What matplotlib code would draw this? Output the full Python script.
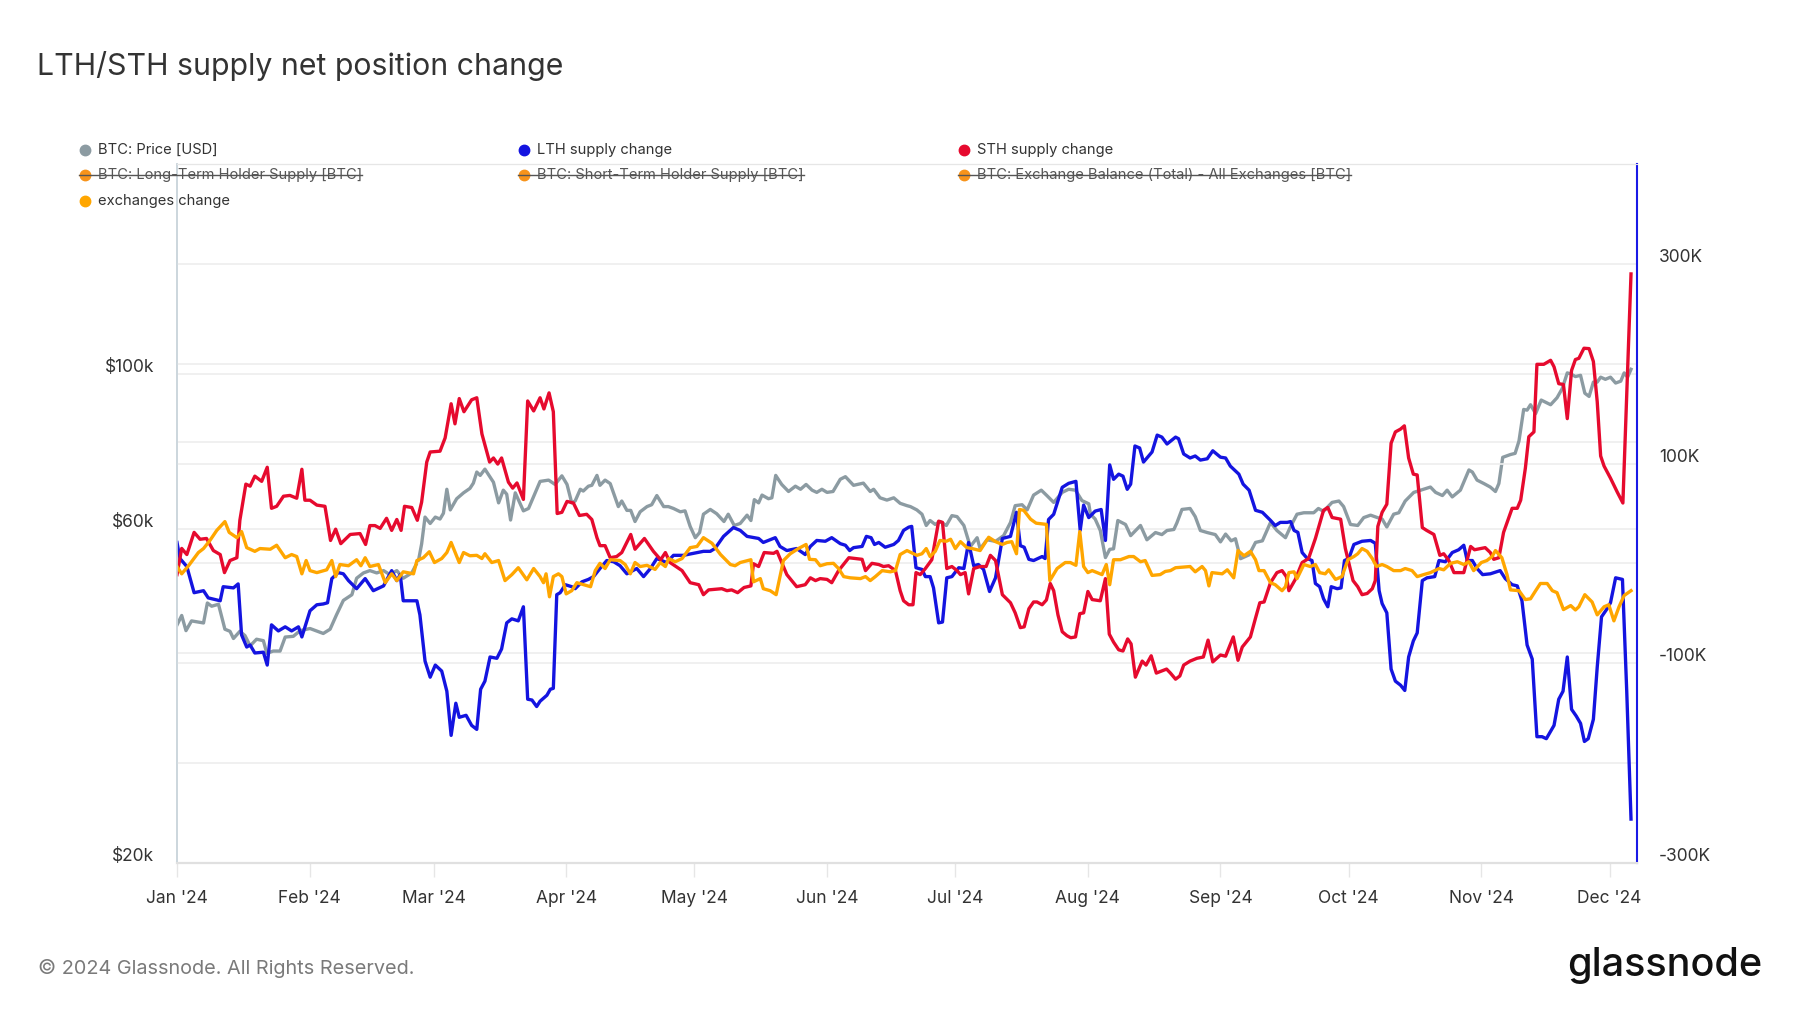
import pandas as pd
import numpy as np
import matplotlib
matplotlib.use("Agg")
import matplotlib.pyplot as plt
import matplotlib.dates as mdates
import matplotlib.transforms as mtransforms
from matplotlib.lines import Line2D
from matplotlib.ticker import FixedLocator, FuncFormatter, NullLocator

plt.rcParams['font.family'] = ['Inter', 'DejaVu Sans']

# ---- data (days counted from 2024-01-01) ----
price_days = [0, 1.1, 2.1, 3.4, 6.2, 7.1, 8.1, 9.7, 11.2, 12.4, 13.2, 14.7, 15.9, 17.1, 18.6, 20.2, 21.0, 22.5,
              24.1, 25.3, 27.2, 28.8, 31.1, 34.2, 35.8, 37.3, 38.9, 40.9, 42.0, 43.6, 45.1, 46.7, 48.3, 49.8,
              51.4, 52.9, 54.9, 56.5, 57.2, 58.0, 59.2, 60.4, 61.5, 62.3, 63.1, 63.9, 65.4, 67.0, 68.5, 69.3,
              70.1, 70.9, 72.0, 74.0, 75.2, 76.3, 77.1, 78.0, 79.1, 81.0, 82.2,
              84.9, 86.9, 88.4, 90.0, 91.2, 92.3, 93.1, 94.3, 95.0, 96.2, 97.0, 98.2, 98.9, 100.1, 101.3, 103.2,
              104.0, 105.2, 106.1, 107.1, 108.3, 109.9, 111.0, 112.2, 113.8, 114.9, 116.1, 117.7, 118.8, 120.0,
              121.2, 122.2, 123.1, 124.7, 126.2, 127.9, 128.9, 130.3, 131.7, 133.3, 134.2, 135.0, 136.0, 136.8,
              138.3, 139.1, 140.0, 141.4, 143.0, 144.6, 145.8, 147.1, 148.5, 149.6, 150.8, 152.0, 153.4, 155.1,
              156.3, 158.2, 160.5, 162.1, 162.9, 164.4, 166.0, 167.6, 169.1, 170.7,
              171.5, 173.0, 174.2, 175.2, 176.1, 177.3, 178.4, 179.9, 181.2, 182.4, 184.0, 185.5, 187.1, 187.8,
              189.4, 191.4, 193.3, 194.9, 196.0, 197.6, 198.8, 200.3, 202.1, 203.4, 205.0, 207.0, 208.5, 210.1,
              211.6, 213.2, 213.6, 214.7, 215.9, 217.1, 218.1, 219.0, 220.0, 221.8, 223.0, 225.3, 226.8, 228.8,
              230.3, 231.5, 233.1, 233.8, 235.0, 236.9, 238.1, 239.3, 240.9, 242.8, 244.0, 245.2, 246.5, 247.5,
              248.7, 250.7, 252.2, 253.8,
              255.7, 257.2, 259.2, 260.4, 261.9, 263.5, 265.8, 266.9, 268.1, 270.1, 271.7, 272.8, 274.4, 276.1,
              277.5, 279.1, 280.7, 281.8, 282.9, 284.5, 285.7, 287.2, 289.2, 290.8, 293.1, 294.3, 295.9, 297.0,
              298.2, 300.1, 302.1, 302.9, 304.0, 305.6, 307.1, 308.3, 309.1, 310.0, 311.8, 312.9, 313.8, 314.9,
              315.7, 316.5, 317.7, 319.0, 321.2, 322.7, 323.9, 325.1, 325.9, 327.0, 328.2, 329.2, 330.2, 331.2,
              332.1, 332.9, 334.0, 335.2, 336.4, 337.6, 338.4, 339.2, 340.0]
price_k = [43.8, 45.2, 43.0, 44.4, 44.1, 47.1, 46.6, 46.9, 43.2, 42.9, 41.9, 42.9, 42.3, 40.9, 41.8, 41.6, 39.9, 40.2,
           40.2, 42.1, 42.2, 43.0, 43.3, 42.6, 43.2, 45.3, 47.5, 48.4, 51.1, 52.0, 52.4, 52.0, 52.4, 51.7,
           52.4, 51.1, 52.0, 54.3, 57.2, 62.5, 61.2, 62.5, 62.1, 63.3, 68.5, 64.0, 66.4, 67.7, 68.7, 69.9,
           72.5, 71.7, 73.2, 70.1, 65.5, 68.3, 67.4, 61.9, 67.7, 63.8, 64.3,
           70.3, 70.6, 69.6, 71.6, 69.6, 65.5, 65.9, 68.5, 68.1, 69.2, 69.4, 71.7, 69.4, 70.6, 69.8, 64.7,
           65.9, 63.9, 63.9, 61.6, 63.6, 64.7, 65.1, 67.1, 64.7, 64.7, 64.3, 63.6, 63.8, 60.6,
           58.4, 59.4, 63.1, 64.1, 63.2, 61.6, 63.1, 60.8, 61.2, 62.9, 61.8, 66.2, 65.5, 67.2,
           66.4, 66.6, 71.7, 69.6, 68.0, 69.2, 68.5, 69.6, 68.3, 67.8, 68.5, 67.8, 68.0, 70.8,
           71.4, 69.4, 69.9, 68.0, 68.5, 66.6, 66.1, 66.6, 65.4, 64.9,
           64.7, 64.0, 63.1, 60.8, 61.8, 61.0, 61.6, 60.8, 62.8, 62.6, 60.8, 56.7, 58.4, 56.3,
           58.0, 57.7, 58.8, 61.4, 64.9, 65.1, 64.0, 67.2, 68.3, 67.1, 65.6, 67.8, 68.5, 68.3,
           66.0, 65.3, 63.1, 62.1, 59.8, 54.7, 56.2, 56.3, 61.8, 61.0, 58.8, 60.8, 58.0, 59.4,
           59.0, 59.8, 60.0, 61.3, 64.1, 64.3, 62.6, 59.8, 59.4, 59.0, 57.6, 59.1, 57.8, 58.2,
           54.5, 55.2, 57.5, 57.8,
           61.4, 59.8, 58.4, 60.6, 63.1, 63.4, 63.4, 64.3, 63.7, 65.6, 65.9, 64.7, 61.0, 60.8,
           62.4, 62.9, 62.4, 62.1, 60.5, 63.1, 63.4, 65.9, 67.8, 68.3, 69.0, 67.8, 67.1, 68.3,
           66.8, 68.3, 73.0, 72.5, 70.6, 69.8, 69.0, 68.0, 69.8, 76.1, 76.8, 77.1, 80.3, 89.1,
           88.9, 90.5, 87.9, 91.9, 90.5, 92.6, 95.4, 100.5, 100.2, 99.3, 99.7, 94.0, 93.0, 97.5,
           97.5, 99.1, 98.4, 99.1, 97.2, 97.8, 100.5, 99.1, 101.7]

lth_days = [0, 0.7, 2.3, 4.0, 6.2, 7.3, 10.1, 10.8, 13.2, 14.3, 15.1, 16.3, 17.1, 18.2, 20.2, 21.1, 22.1, 23.7,
            25.3, 26.8, 28.4, 29.2, 31.1, 32.7, 34.2, 35.2, 36.2, 37.7, 38.9, 40.1, 42.0, 44.0, 45.9, 48.3,
            50.2, 51.4, 52.2, 52.9, 56.1, 56.8, 58.0, 59.2, 60.4, 61.9, 63.1, 64.1, 65.2, 66.0, 67.6, 68.9,
            70.1, 71.0, 72.0, 73.2, 74.8, 75.9, 77.1, 78.3, 79.8, 81.0, 82.0, 83.0, 84.1,
            84.9, 86.5, 87.3, 88.0, 88.8, 89.6, 90.8, 92.3, 93.1, 94.7, 96.2, 97.4, 98.9, 100.5, 102.1, 103.6,
            105.2, 107.5, 109.1, 110.7, 112.2, 114.5, 116.1, 118.4, 120.8, 123.1, 124.7, 125.8, 127.8, 130.1,
            131.7, 133.3, 136.0, 137.1, 139.9, 141.0, 142.6, 144.9, 146.9, 148.1, 149.6, 151.6, 153.1, 155.1,
            156.3, 157.3, 158.2, 160.2, 161.2, 162.3, 163.1, 164.1, 165.6, 167.6, 168.7, 169.9, 171.1, 171.8,
            172.8, 174.2, 175.0, 176.1, 176.9, 178.1, 179.0, 180.0, 181.2, 182.8, 184.0, 185.1, 186.3, 187.4,
            188.6, 190.0, 191.4, 193.0, 194.9, 196.3, 197.2, 198.1, 199.2, 200.3, 202.3, 203.0, 203.8, 205.0,
            207.0, 208.5, 210.2, 211.2, 212.0, 213.2, 214.7, 216.1, 217.1, 218.1, 219.0, 220.2, 221.2, 222.2,
            223.0, 224.0, 225.1, 226.0, 228.0, 229.2, 230.3, 231.5, 233.5, 234.2, 235.4, 236.9, 238.1, 239.3,
            240.9, 242.2, 244.0, 245.2, 246.3, 248.3, 249.3, 250.7, 252.2, 253.8,
            255.7, 256.8, 258.0, 259.6, 260.4, 261.2, 262.1, 263.1, 264.3, 265.4, 266.2, 267.2, 268.1, 269.1,
            269.9, 271.3, 272.2, 273.0, 274.0, 275.2, 277.1, 279.1, 280.2, 281.1, 281.8, 282.9, 283.9, 284.9,
            286.1, 287.1, 288.0, 289.1, 290.0, 291.2, 292.3, 294.1, 295.1, 296.6, 298.2, 299.7, 300.9, 301.7,
            302.9, 304.0, 305.3, 307.1, 309.4, 310.6, 312.2, 313.4, 314.5, 315.7, 316.9, 318.0, 319.2, 320.2,
            322.0, 323.1, 324.1, 325.1, 326.1, 327.2, 328.2, 329.1, 330.0, 331.2, 332.1, 333.1, 334.4, 335.2,
            336.4, 338.0, 339.0, 340.0]
lth_k = [21.0, 4.9, -3.1, -29.3, -27.3, -34.5, -37.4, -23.3, -24.5, -20.5, -71.6, -83.7, -81.7, -89.7, -88.9,
         -101.8, -61.5, -67.6, -63.5, -67.6, -63.5, -73.6, -47.4, -41.4, -40.6, -39.4, -15.2, -9.2, -10.4, -17.2,
         -25.3, -15.2, -27.3, -22.5, -7.2, -17.2, -11.2, -37.4, -37.4, -51.5, -97.8, -113.9, -101.8, -107.8,
         -128.0, -172.2, -140.0, -154.1, -152.1, -162.2, -166.2, -126.0, -117.9, -93.7, -95.0, -85.7, -59.5,
         -55.5, -57.5, -43.4, -136.0, -136.8, -143.3,
         -138.0, -132.0, -126.0, -125.1, -31.3, -29.3, -21.3, -23.3, -25.3, -18.4, -16.0, -13.2, -5.1, 2.9, 1.7,
         -2.3, -10.4, -5.1, -13.2, -5.1, 4.9, 0.9, 8.1, 8.1, 10.1, 12.1, 12.1, 15.0, 27.1, 35.9,
         33.1, 27.1, 25.0, 21.0, 25.8, 17.0, 12.9, 14.9, 8.9, 17.0, 23.0, 22.2, 25.8, 19.8,
         18.2, 12.9, 15.8, 17.0, 27.1, 25.8, 19.0, 21.0, 16.2, 19.0, 23.0, 33.1, 36.3, 37.1,
         -4.3, -6.0, -13.2, -13.2, -24.5, -59.5, -58.7, -14.4, -13.2, -4.3, -5.1, 21.0, -2.3, -1.1,
         -6.0, -28.1, -14.4, 25.0, 27.1, 51.2, 17.8, 16.2, 4.1, 2.9, 6.9, 4.9, 44.0, 49.2,
         76.2, 80.2, 82.2, 33.1, 58.4, 45.9, 52.4, 54.0, 23.0, 98.7, 84.2, 89.4, 87.4, 74.2,
         79.4, 117.6, 115.6, 101.5, 111.6, 128.5, 126.5, 119.6, 126.5, 124.9, 109.6, 105.6, 107.6, 103.5,
         104.8, 112.8, 106.4, 105.6, 97.5, 89.4, 79.4, 73.3, 53.2, 51.2,
         43.1, 37.9, 41.1, 41.1, 41.9, 33.1, 31.1, 10.9, 4.9, 2.9, -20.1, -23.3, -35.4, -43.4,
         -23.3, -25.3, -24.5, 2.9, 4.9, 19.0, 22.2, 23.0, 20.2, -27.3, -40.2, -49.5, -105.8, -117.9,
         -121.9, -127.2, -93.7, -77.6, -69.6, -17.2, -14.4, -13.2, 2.9, 1.7, 10.9, 13.7, 18.2, 2.9,
         2.9, -5.1, -11.2, -10.4, -7.2, -15.2, -21.3, -22.5, -37.4, -81.7, -95.8, -173.5, -173.5, -175.5,
         -162.2, -136.0, -128.0, -93.7, -146.1, -152.9, -160.2, -178.3, -175.5, -156.1, -103.8, -53.5, -45.4, -39.4,
         -14.4, -16.0, -128.0, -256.0]

sth_days = [0, 1.1, 2.3, 4.0, 5.4, 6.9, 8.5, 10.1, 11.1, 12.4, 14.0, 14.7, 16.1, 17.1, 18.2, 19.8, 21.1, 22.1,
            23.3, 24.9, 26.4, 28.0, 29.2, 29.9, 31.1, 32.7, 34.6, 35.9, 37.1, 38.3, 40.5, 42.8, 44.1, 45.1,
            46.3, 47.5, 49.0, 50.2, 51.4, 52.4, 53.2, 54.9, 56.2, 57.2, 58.4, 59.2, 61.5, 62.7, 64.1, 65.0,
            66.0, 67.1, 68.9, 70.1, 71.3, 73.1, 74.0, 75.0, 75.9, 77.5, 78.5, 79.5, 81.0, 82.0, 83.4,
            84.9, 85.8, 87.0, 88.0, 88.9, 90.0, 91.2, 92.7, 94.1, 95.8, 97.0, 98.2, 98.9, 100.1, 101.3, 102.8,
            104.0, 106.1, 107.1, 109.3, 111.4, 113.1, 114.2, 115.3, 118.1, 120.0, 122.0, 123.1, 124.3, 127.4,
            128.6, 129.7, 131.1, 132.6, 134.2, 134.8, 136.0, 137.3, 139.5, 140.3, 141.4, 142.6, 144.9, 146.9,
            148.1, 149.3, 150.4, 152.0, 153.1, 154.7, 157.1, 160.2, 161.0, 162.5, 164.1, 165.2, 166.4, 168.0,
            169.1, 169.9, 171.1, 172.1,
            172.8, 173.8, 175.0, 176.5, 178.1, 179.0, 180.0, 181.2, 182.4, 183.2, 184.3, 185.1, 186.3, 187.8,
            189.2, 190.2, 191.4, 193.0, 194.9, 196.0, 197.2, 198.1, 199.2, 200.3, 201.1, 202.3, 203.3, 204.2,
            205.0, 206.0, 207.0, 208.1, 209.0, 210.1, 211.1, 212.0, 213.0, 214.0, 215.9, 217.1, 218.0, 219.0,
            220.2, 221.2, 222.3, 223.1, 224.1, 225.7, 226.6, 227.8, 229.0, 231.4, 232.3, 233.5, 234.5, 235.4,
            236.9, 238.5, 240.0, 241.1, 242.2, 244.0, 245.2, 247.0, 248.1, 249.1, 251.0, 252.2, 253.2, 254.2,
            255.7, 257.2, 258.4, 259.4, 260.0, 261.5, 263.1, 264.6, 266.2, 268.1, 269.1, 270.1, 272.1, 273.2,
            275.0, 276.1, 277.1, 278.3, 279.5, 280.2, 280.8, 281.8, 282.9, 283.9, 284.9, 286.1, 287.0, 288.0,
            289.1, 290.0, 291.2, 292.2, 293.9, 295.3, 296.2, 297.4, 298.6, 300.9, 302.5, 303.4, 304.8, 305.9,
            307.1, 307.9, 309.1, 310.2, 312.2, 313.4, 314.2, 315.3, 316.1, 317.3, 318.0, 319.6, 321.2, 322.0,
            323.1, 324.2, 325.1, 326.1, 327.0, 327.8, 329.0, 330.2, 331.2, 332.1, 332.9, 333.7, 335.2, 336.8,
            338.1, 340.0]
sth_k = [-11.2, 15.0, 8.9, 31.1, 24.2, 25.0, 12.9, 8.9, -9.2, 2.9, 5.7, 43.2, 79.4, 77.4, 87.4, 82.2, 96.3, 55.2,
         57.2, 67.3, 68.1, 65.3, 94.3, 63.3, 63.3, 58.4, 57.2, 23.0, 34.3, 19.8, 29.0, 29.9, 19.0, 37.9,
         37.9, 35.1, 45.2, 33.1, 44.0, 33.1, 57.2, 56.0, 43.2, 61.3, 101.5, 111.6, 112.4, 125.7, 159.9, 139.8,
         165.1, 151.9, 163.9, 165.9, 129.7, 101.5, 105.6, 99.5, 105.6, 81.4, 75.4, 80.6, 64.1, 162.7, 152.7,
         165.9, 154.7, 170.8, 151.9, 50.0, 51.2, 62.1, 60.5, 48.0, 49.2, 44.0, 25.8, 17.8, 17.8, 5.7, 6.9,
         10.9, 29.0, 14.2, 25.0, 12.1, 3.7, 10.9, 0.9, -7.2, -19.3, -21.3, -31.3, -26.5, -25.3,
         -27.3, -26.5, -29.3, -24.1, -22.5, -0.3, -3.1, 10.9, 10.1, 12.1, 0.9, -11.2, -23.3, -21.3,
         -14.4, -17.2, -15.2, -16.0, -19.3, -7.2, 5.7, 4.1, -7.2, 0.1, -1.1, -3.1, -2.3, -7.2,
         -27.3, -37.4, -41.4, -41.4,
         -9.2, -11.2, -5.1, 3.7, 42.3, 41.1, -5.1, -3.1, -7.2, -11.2, -9.2, -30.5, -5.1, -3.1,
         -3.1, 8.1, 2.9, -31.3, -39.4, -49.5, -64.3, -63.5, -45.4, -38.6, -38.6, -41.4, -36.6, -20.1,
         -27.3, -51.5, -68.4, -72.4, -74.4, -73.6, -50.3, -49.5, -28.1, -36.2, -37.4, -15.2, -70.8, -78.8,
         -86.5, -87.7, -75.6, -80.6, -113.9, -97.8, -101.8, -92.5, -109.8, -105.8, -109.8, -115.9, -112.7, -101.8,
         -97.8, -95.0, -93.7, -76.8, -98.6, -91.7, -92.9, -73.6, -97.0, -83.7, -73.6, -54.7, -39.4, -38.6,
         -19.3, -9.2, -7.2, -13.2, -27.3, -16.0, 0.9, 4.9, 25.0, 53.2, 56.0, 46.0, 44.3, 15.0,
         -17.2, -23.3, -31.3, -30.1, -25.3, -17.2, 37.1, 51.2, 59.3, 120.4, 131.7, 134.5, 137.8, 105.6,
         89.4, 88.6, 35.9, 33.1, 29.0, 8.1, 9.7, 2.9, -9.2, -9.2, 17.0, 13.7, 14.9, 15.8,
         10.9, 4.1, 5.7, 31.1, 55.2, 55.2, 63.3, 95.5, 126.9, 131.7, 199.4, 199.4, 203.4, 196.9,
         180.0, 179.2, 145.0, 193.3, 204.2, 205.4, 215.5, 215.1, 202.2, 161.9, 107.6, 97.5, 85.4, 71.3,
         60.5, 289.9]

exch_days = [0, 1.1, 2.7, 5.0, 6.2, 7.7, 9.3, 11.2, 12.2, 14.0, 15.1, 16.3, 18.2, 19.4, 21.8, 23.3, 25.3, 26.8,
             28.0, 29.2, 30.2, 31.1, 32.7, 35.0, 36.2, 37.1, 38.1, 40.1, 42.0, 43.0, 44.0, 45.1, 47.1, 48.7,
             50.2, 51.4, 52.9, 55.3, 56.1, 57.6, 59.0, 60.2, 61.9, 63.1, 64.1, 66.0, 67.0, 68.5, 70.1, 71.3,
             72.0, 73.6, 75.2, 76.7, 78.3, 79.8, 81.8, 83.4,
             84.9, 85.7, 86.3, 87.1, 88.0, 89.2, 90.0, 91.0, 92.3, 93.5, 95.1, 96.7, 97.8, 98.9, 100.1, 101.3,
             103.6, 104.8, 106.0, 107.1, 108.3, 109.9, 111.8, 113.0, 114.2, 115.0, 116.5, 118.1, 120.0, 121.6,
             123.1, 125.1, 127.1, 129.4, 130.5, 131.7, 134.2, 134.8, 136.4, 137.1, 138.7, 140.1, 141.8, 143.4,
             145.3, 147.1, 147.9, 149.3, 150.4, 152.0, 153.5, 154.7, 155.9, 157.4, 159.8, 161.0, 162.1, 163.3,
             164.9, 166.8, 168.0, 169.1, 170.7,
             173.0, 174.2, 175.2, 176.1, 177.3, 178.4, 179.9, 180.9, 182.0, 183.2, 184.7, 185.9, 187.8, 189.8,
             191.4, 193.0, 194.1, 195.2, 196.3, 197.0, 198.0, 199.6, 200.9, 203.3, 204.1, 205.8, 207.7, 208.9,
             210.2, 211.1, 212.0, 213.0, 214.0, 216.3, 217.3, 218.1, 219.0, 220.6, 222.6, 223.7, 225.3, 226.4,
             228.0, 229.9, 231.1, 232.3, 233.5, 236.9, 238.1, 239.7, 240.5, 241.3, 242.0, 244.4, 245.6, 247.1,
             248.1, 249.5, 251.0, 252.2, 253.0, 254.2,
             255.7, 256.8, 258.4, 259.2, 260.0, 261.2, 261.9, 263.5, 265.0, 266.2, 267.2, 268.5, 269.3, 270.9,
             272.4, 273.8, 275.2, 276.1, 277.1, 278.3, 279.5, 280.5, 281.8, 282.9, 284.5, 286.1, 287.2, 288.8,
             290.0, 291.5, 293.1, 295.1, 296.2, 297.8, 299.4, 300.9, 302.1, 303.2, 305.0, 306.3, 307.5, 308.3,
             309.8, 311.0, 311.8, 313.8, 315.3, 316.5, 317.7, 318.8, 320.4, 321.6, 322.7, 324.2, 325.9, 327.0,
             327.8, 329.2, 330.9, 332.1, 333.7, 334.8, 336.0, 337.2, 338.4, 340.0]
exch_k = [-3.1, -10.4, -2.3, 10.9, 14.9, 23.0, 33.1, 41.9, 31.1, 25.8, 31.9, 15.8, 12.1, 14.9, 14.2, 18.2, 5.7, 8.9,
          6.9, -10.4, 2.9, -7.2, -9.2, -6.4, 2.9, -13.2, -1.1, -2.3, 3.7, -2.3, 5.7, -3.1, -1.1, -19.3,
          -10.4, -17.2, -8.4, -10.4, 2.9, 5.7, 11.7, 0.9, 4.9, 10.9, 21.0, 0.9, 10.9, 7.7, 8.1, 4.9,
          9.7, 0.9, 2.9, -17.2, -11.2, -4.3, -16.4, -5.1,
          -13.2, -19.3, -10.4, -33.4, -13.2, -10.4, -13.2, -30.5, -27.3, -19.3, -21.3, -23.3, -7.2, 0.1, -5.1, 3.7,
          2.9, -1.1, -10.4, 0.9, -3.1, -1.9, -6.0, 0.9, -3.1, 4.9, 1.7, 4.9, 15.8, 17.0,
          25.8, 20.2, 8.9, -1.1, -2.3, 0.9, 3.7, -18.4, -15.2, -25.3, -27.3, -31.3, 2.9, 9.7,
          14.9, 19.0, 4.1, 3.7, -2.3, -0.3, 0.1, -5.1, -13.2, -14.4, -15.2, -13.2, -17.2, -13.2,
          -7.2, -8.4, -7.2, 8.9, 12.9,
          8.1, 9.7, 14.9, 6.9, 12.1, 23.0, 22.2, 24.2, 14.9, 21.8, 15.8, 14.9, 12.9, 26.2,
          21.8, 19.0, 21.0, 21.8, 9.7, 54.0, 53.2, 44.3, 40.3, 39.1, -17.2, -5.1, 0.9, 0.9,
          -1.9, 31.9, -3.1, -9.2, -7.2, -11.2, -1.1, -21.3, 3.7, 3.7, 6.9, 6.9, 1.7, 2.9,
          -12.0, -11.2, -8.0, -7.2, -4.3, -3.1, -8.4, -3.1, -7.2, -22.5, -9.2, -10.4, -6.4, -14.4,
          12.9, 7.7, 12.1, 3.7, -7.2, -7.2,
          -19.3, -21.3, -27.3, -23.3, -9.2, -8.4, -15.2, -1.1, -3.1, -1.1, -9.2, -10.4, -6.4, -16.0,
          -13.2, 3.7, 6.9, 9.7, 14.9, 12.1, 4.9, -3.1, -1.1, -3.1, -7.2, -7.2, -5.1, -7.2,
          -13.2, -11.2, -9.2, -5.1, -6.4, 0.1, 1.7, -1.1, 1.7, -7.2, 0.9, 2.9, 6.9, 12.9,
          5.7, -11.2, -26.5, -27.3, -36.2, -35.4, -27.3, -20.1, -20.1, -27.3, -29.3, -46.2, -42.2, -46.6,
          -43.4, -31.3, -38.6, -51.5, -43.4, -41.4, -57.5, -43.4, -32.1, -27.3]

price_ticks = [20000, 40000, 60000, 80000, 100000]
price_labels = {20000: "$20k", 60000: "$60k", 100000: "$100k"}
change_ticks = [-300000, -200000, -100000, 0, 100000, 200000, 300000]
change_labels = {-300000: "-300K", -100000: "-100K", 100000: "100K", 300000: "300K"}

start = pd.Timestamp("2024-01-01")


def to_dates(days):
    return start + pd.to_timedelta(np.array(days), unit="D")


W, H = 1800, 1013
fig = plt.figure(figsize=(W / 100, H / 100), dpi=100)
fig.patch.set_facecolor("white")


def fx(x):
    return x / W


def fy(y):
    return 1 - y / H


ax = fig.add_axes([fx(177), fy(863), (1637 - 177) / W, (863 - 164) / H])
ax2 = ax.twinx()

GRAY = "#8c9ba2"
BLUE = "#1414e0"
RED = "#e60a2e"
ORANGE = "#ffa600"
GRID = "#eeeeee"
TXT = "#333333"
LW = 2.4

ax.plot(to_dates(price_days), np.array(price_k) * 1000, color=GRAY, lw=LW, solid_joinstyle="round")
ax2.plot(to_dates(lth_days), np.array(lth_k) * 1000, color=BLUE, lw=LW, solid_joinstyle="round")
ax2.plot(to_dates(sth_days), np.array(sth_k) * 1000, color=RED, lw=LW, solid_joinstyle="round")
ax2.plot(to_dates(exch_days), np.array(exch_k) * 1000, color=ORANGE, lw=LW, solid_joinstyle="round")

# left axis: price, log
ax.set_yscale("log")
ax.set_ylim(20000, 200000)
ax.yaxis.set_major_locator(FixedLocator(price_ticks))
ax.yaxis.set_minor_locator(NullLocator())
ax.yaxis.set_major_formatter(FuncFormatter(lambda v, p: price_labels.get(int(round(v)), "")))
ax.grid(axis="y", color=GRID, lw=1.2)

# right axis: supply change
ax2.set_ylim(-300000, 400000)
ax2.yaxis.set_major_locator(FixedLocator(change_ticks))
ax2.yaxis.set_major_formatter(FuncFormatter(lambda v, p: change_labels.get(int(round(v)), "")))
ax2.grid(axis="y", color=GRID, lw=1.2)

ax.set_xlim(start, start + pd.Timedelta(days=341.4))
ax.xaxis.set_major_locator(mdates.MonthLocator())
ax.xaxis.set_major_formatter(mdates.DateFormatter("%b '%y"))

ax.tick_params(axis="x", length=10, width=1, color="#e6e6e6", pad=9.5, labelsize=12.5, labelcolor=TXT)
ax.tick_params(axis="y", length=0, pad=16.5, labelsize=12.5, labelcolor=TXT)
ax2.tick_params(axis="y", length=0, pad=16, labelsize=12.5, labelcolor=TXT)

for a in (ax, ax2):
    a.spines["top"].set_color("#e6e6e6")
    a.spines["bottom"].set_color("#e0e0e0")
    a.spines["bottom"].set_linewidth(1.5)
    a.spines["left"].set_color("#ccd6dd")
    a.spines["left"].set_linewidth(1.2)
ax.spines["right"].set_visible(False)
ax2.spines["right"].set_color("#1a1ae6")
ax2.spines["right"].set_linewidth(1.5)

# y labels sit a little above their gridline
shift = mtransforms.ScaledTranslation(0, 0.085, fig.dpi_scale_trans)
for lbl in ax.get_yticklabels() + ax2.get_yticklabels():
    lbl.set_transform(lbl.get_transform() + shift)

# title and footer
fig.text(fx(37), fy(66), "LTH/STH supply net position change", fontsize=21.8, color=TXT, va="center")
fig.text(fx(38), fy(968), "\u00a9 2024 Glassnode. All Rights Reserved.", fontsize=14.3, color="#7a7a7a",
         va="center")
fig.text(fx(1762), fy(965), "glassnode", fontsize=28.5, color="#111111", ha="right", va="center",
         fontweight="medium")

# legend
legend_items = [
    ("BTC: Price [USD]", GRAY, 85, 150, False),
    ("LTH supply change", BLUE, 524, 150, False),
    ("STH supply change", RED, 964, 150, False),
    ("BTC: Long-Term Holder Supply [BTC]", "#f7931a", 85, 175, True),
    ("BTC: Short-Term Holder Supply [BTC]", "#f7931a", 524, 175, True),
    ("BTC: Exchange Balance (Total) - All Exchanges [BTC]", "#f7931a", 964, 175, True),
    ("exchanges change", ORANGE, 85, 201, False),
]
struck = []
for label, col, x, y, off in legend_items:
    fig.add_artist(Line2D([fx(x)], [fy(y)], marker="o", ms=7.5, color=col, mec=col,
                          transform=fig.transFigure))
    t = fig.text(fx(x + 13), fy(y), label, fontsize=10.6, color="#555555" if off else TXT, va="center")
    if off:
        struck.append((t, x, y))

fig.canvas.draw()
for t, x, y in struck:
    bb = t.get_window_extent()
    fig.add_artist(Line2D([fx(x - 6), bb.x1 / W], [fy(y), fy(y)], color="#555555", lw=1.0,
                          transform=fig.transFigure))

fig.savefig("out.png", dpi=100, facecolor="white")
